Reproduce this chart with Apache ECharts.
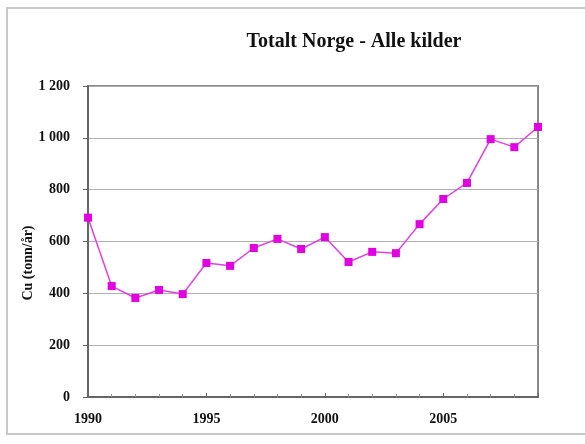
<!DOCTYPE html>
<html><head><meta charset="utf-8">
<script src="https://cdn.jsdelivr.net/npm/echarts@6/dist/echarts.min.js"></script>
<style>html,body{margin:0;padding:0;background:#fff}#c{width:585px;height:444px}</style>
</head><body><div id="c"></div>
<script>
const years = [1990,1991,1992,1993,1994,1995,1996,1997,1998,1999,2000,2001,2002,2003,2004,2005,2006,2007,2008,2009];
const cuValues = [692,428,382,413,397,517,506,575,610,571,617,521,560,555,667,764,826,995,964,1042];
const titleText = 'Totalt Norge - Alle kilder';
const yAxisName = 'Cu (tonn/år)';

const chart = echarts.init(document.getElementById('c'));
const fontFam = '"Liberation Serif", "DejaVu Serif", serif';
chart.setOption({
  animation: false,
  graphic: [
    {type:'rect', shape:{x:7,y:8,width:590,height:426}, style:{fill:'none', stroke:'#c8c8c8', lineWidth:2}, silent:true},
    {type:'text', x:28, y:263, rotation:Math.PI/2, style:{text:yAxisName, fontFamily:fontFam, fontWeight:'bold', fontSize:14, fill:'#111', align:'center', verticalAlign:'middle'}}
  ],
  title: {text: titleText, left: 349, top: 27, textAlign: 'center',
    textStyle:{fontFamily:fontFam, fontWeight:'bold', fontSize:20, color:'#111'}},
  grid: {left: 88, right: 47, top: 86, bottom: 47, show: true, borderColor:'#888', borderWidth:2, backgroundColor:'#fff'},
  xAxis: {type:'value', min:1990, max:2009, interval:5,
    axisLine:{show:true, lineStyle:{color:'#666', width:2}},
    axisTick:{show:true, inside:true, length:4, lineStyle:{color:'#666'}},
    minorTick:{show:true, splitNumber:5, length:3, lineStyle:{color:'#999'}},
    splitLine:{show:false},
    axisLabel:{fontFamily:fontFam, fontWeight:'bold', fontSize:14, color:'#111', margin:15,
      formatter: v => (v % 5 === 0 && v < 2009) ? String(v) : ''}},
  yAxis: {type:'value', min:0, max:1200, interval:200,
    axisLine:{show:true, lineStyle:{color:'#666', width:2}},
    axisTick:{show:true, length:5, lineStyle:{color:'#666'}},
    splitLine:{show:true, lineStyle:{color:'#b0b0b0', width:1}},
    axisLabel:{fontFamily:fontFam, fontWeight:'bold', fontSize:14, color:'#111', margin:18,
      formatter: v => v >= 1000 ? Math.floor(v/1000) + ' ' + String(v%1000).padStart(3,'0') : String(v)}},
  series: [{type:'line', data: years.map((y,i)=>[y, cuValues[i]]),
    symbol:'rect', symbolSize:8,
    lineStyle:{color:'#e040e0', width:1.5},
    itemStyle:{color:'#e000e0'}}]
});
</script></body></html>
